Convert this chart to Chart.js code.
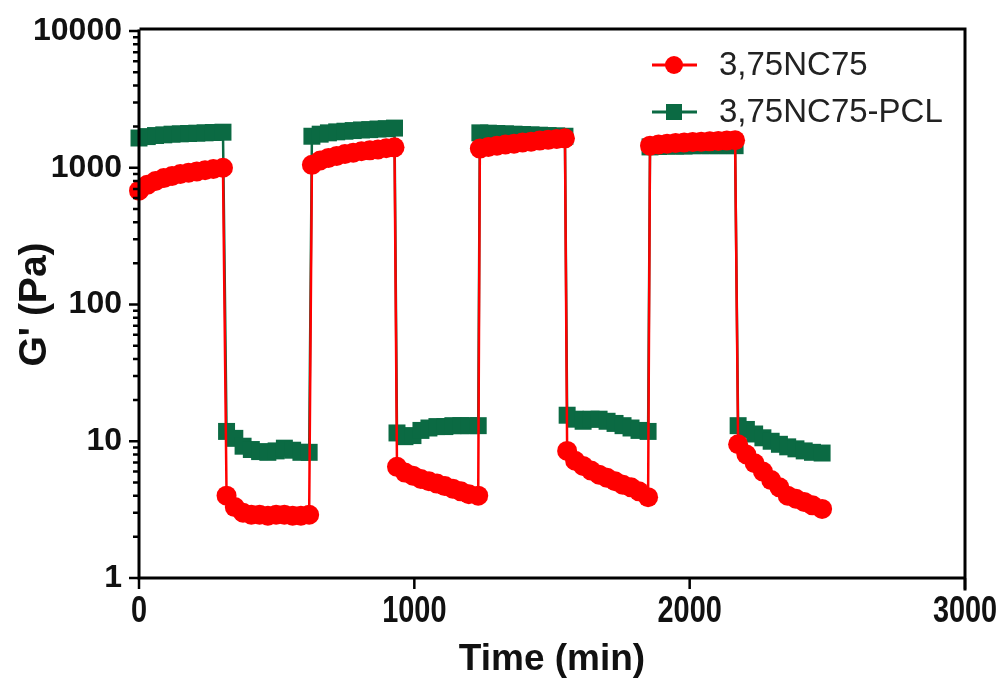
<!DOCTYPE html>
<html>
<head>
<meta charset="utf-8">
<script src="https://cdn.jsdelivr.net/npm/chart.js@4.4.0/dist/chart.umd.min.js"></script>
<style>
  html, body { margin: 0; padding: 0; background: #fff; }
</style>
</head>
<body>
<canvas id="rheoChart" width="1004" height="684"></canvas>
<script>
// tiempos (min) - 8 tramos alternos alto / bajo
const times = [
  0, 30, 60, 90, 120, 150, 180, 210, 240, 270, 305,
  318, 348, 378, 408, 438, 468, 498, 528, 558, 588, 618,
  628, 658, 688, 718, 748, 778, 808, 838, 868, 898, 928,
  937, 966, 995, 1024, 1053, 1082, 1111, 1140, 1169, 1198, 1232,
  1238, 1269, 1300, 1331, 1362, 1393, 1424, 1455, 1486, 1517, 1547,
  1555, 1584, 1613, 1642, 1671, 1700, 1729, 1758, 1787, 1816, 1849,
  1856, 1887, 1918, 1949, 1980, 2011, 2042, 2073, 2104, 2135, 2165,
  2176, 2206, 2236, 2266, 2296, 2326, 2356, 2386, 2416, 2446, 2481
];

// G' (Pa) 3,75NC75
const nc75 = [
  680, 750, 800, 840, 870, 900, 920, 940, 960, 980, 1000,
  4.0, 3.3, 3.0, 2.9, 2.9, 2.85, 2.9, 2.9, 2.85, 2.85, 2.9,
  1050, 1130, 1180, 1220, 1260, 1290, 1320, 1340, 1360, 1390, 1410,
  6.5, 5.9, 5.6, 5.3, 5.1, 4.9, 4.7, 4.5, 4.3, 4.1, 4.0,
  1380, 1420, 1450, 1480, 1500, 1530, 1550, 1580, 1600, 1620, 1640,
  8.5, 7.2, 6.6, 6.1, 5.7, 5.4, 5.1, 4.8, 4.6, 4.3, 3.9,
  1450, 1480, 1500, 1520, 1530, 1540, 1550, 1560, 1570, 1580, 1590,
  9.5, 8.0, 6.9, 6.0, 5.2, 4.6, 4.0, 3.8, 3.6, 3.4, 3.2
];

// G' (Pa) 3,75NC75-PCL
const nc75pcl = [
  1650, 1690, 1720, 1740, 1760, 1770, 1780, 1790, 1800, 1810, 1820,
  11.8, 10.5, 9.2, 8.7, 8.4, 8.3, 8.5, 8.9, 8.6, 8.3, 8.3,
  1700, 1760, 1800, 1830, 1850, 1870, 1890, 1900, 1920, 1930, 1950,
  11.5, 10.8, 11.0, 12.0, 12.5, 12.8, 12.8, 13.0, 13.0, 13.0, 13.0,
  1800, 1790, 1780, 1770, 1760, 1750, 1740, 1730, 1720, 1710, 1700,
  15.5, 14.5, 14.0, 14.5, 14.5, 14.0, 13.5, 13.0, 12.5, 12.0, 11.8,
  1420, 1430, 1440, 1440, 1440, 1450, 1450, 1450, 1450, 1450, 1450,
  13.0, 12.2, 11.3, 10.6, 10.0, 9.5, 9.1, 8.8, 8.5, 8.3, 8.2
];

const seriesNames = ['3,75NC75', '3,75NC75-PCL'];
const seriesColors = ['#ff0000', '#0b6a43'];
const yTicks = [1, 10, 100, 1000, 10000];
const xTicks = [0, 1000, 2000, 3000];

function toPoints(vals) {
  return times.map((t, i) => ({ x: t, y: vals[i] }));
}

// Ejes estilo Prism: marcas mayores y menores, dibujadas con las escalas
const axesPlugin = {
  id: 'axesPlugin',
  afterDatasetsDraw(chart) {
    const { ctx, chartArea: a, scales } = chart;
    const x = scales.x, y = scales.y;
    ctx.save();
    ctx.strokeStyle = '#000';
    ctx.lineWidth = 3;
    ctx.lineCap = 'square';

    ctx.beginPath();
    ctx.moveTo(a.left, a.top);
    ctx.lineTo(a.left, a.bottom);
    ctx.lineTo(a.right, a.bottom);
    ctx.moveTo(a.left + 2, a.top - 2);
    ctx.lineTo(a.right, a.top - 2);
    ctx.lineTo(a.right, a.bottom + 11);
    ctx.stroke();

    // marcas del eje y
    ctx.lineWidth = 2.5;
    ctx.lineCap = 'butt';
    ctx.beginPath();
    yTicks.forEach(v => {
      const p = y.getPixelForValue(v);
      ctx.moveTo(a.left - 10, p);
      ctx.lineTo(a.left, p);
    });
    for (let d = 0; d < yTicks.length - 1; d++) {
      for (let m = 2; m < 10; m++) {
        const p = y.getPixelForValue(yTicks[d] * m);
        ctx.moveTo(a.left - 6, p);
        ctx.lineTo(a.left, p);
      }
    }
    // marcas del eje x
    xTicks.forEach(v => {
      const p = x.getPixelForValue(v);
      ctx.moveTo(p, a.bottom);
      ctx.lineTo(p, a.bottom + 11);
    });
    ctx.stroke();

    // etiquetas del eje x (negrita estrecha)
    ctx.fillStyle = '#111';
    ctx.font = 'bold 37px "Liberation Sans", Arial, sans-serif';
    ctx.textAlign = 'center';
    ctx.textBaseline = 'middle';
    xTicks.forEach(v => {
      const p = x.getPixelForValue(v);
      ctx.save();
      ctx.translate(p, a.bottom + 34);
      ctx.scale(0.78, 1);
      ctx.fillText(String(v), 0, 0);
      ctx.restore();
    });
    ctx.restore();
  }
};

// Leyenda con linea + marcador
const legendPlugin = {
  id: 'legendPlugin',
  afterDraw(chart) {
    const { ctx } = chart;
    const rows = [65, 112];
    ctx.save();
    seriesNames.forEach((name, i) => {
      const yy = rows[i];
      ctx.strokeStyle = seriesColors[i];
      ctx.fillStyle = seriesColors[i];
      ctx.lineWidth = 3;
      ctx.beginPath();
      ctx.moveTo(652, yy);
      ctx.lineTo(697, yy);
      ctx.stroke();
      ctx.beginPath();
      if (i === 0) {
        ctx.arc(674, yy, 9, 0, Math.PI * 2);
      } else {
        ctx.rect(666, yy - 8, 16, 16);
      }
      ctx.fill();
      ctx.fillStyle = '#222';
      ctx.font = '33px "Liberation Sans", Arial, sans-serif';
      ctx.textBaseline = 'middle';
      ctx.fillText(name, 719, yy + 1);
    });
    ctx.restore();
  }
};

const ctx = document.getElementById('rheoChart').getContext('2d');
const rheoChart = new Chart(ctx, {
  type: 'line',
  data: {
    datasets: [
      {
        label: seriesNames[0],
        data: toPoints(nc75),
        borderColor: seriesColors[0],
        backgroundColor: seriesColors[0],
        pointBackgroundColor: seriesColors[0],
        pointBorderColor: seriesColors[0],
        borderWidth: 2.5,
        pointRadius: 10,
        pointBorderWidth: 0,
        pointStyle: 'circle',
        tension: 0,
        clip: false
      },
      {
        label: seriesNames[1],
        data: toPoints(nc75pcl),
        borderColor: seriesColors[1],
        backgroundColor: seriesColors[1],
        pointBackgroundColor: seriesColors[1],
        pointBorderColor: seriesColors[1],
        borderWidth: 2.5,
        pointRadius: 12,
        pointBorderWidth: 0,
        pointStyle: 'rect',
        tension: 0,
        clip: false
      }
    ]
  },
  options: {
    responsive: false,
    animation: false,
    events: [],
    layout: { padding: { top: 31, right: 39, left: 0, bottom: 0 } },
    plugins: {
      legend: { display: false },
      tooltip: { enabled: false }
    },
    scales: {
      x: {
        type: 'linear',
        min: 0,
        max: 3000,
        afterFit: s => { s.height = 106; s.paddingLeft = 0; s.paddingRight = 0; },
        afterBuildTicks: s => { s.ticks = xTicks.map(v => ({ value: v })); },
        grid: { display: false, drawTicks: false },
        border: { display: false },
        ticks: { display: false },
        title: {
          display: true,
          text: 'Time (min)',
          color: '#111',
          padding: { top: 0, bottom: 2 },
          font: { family: '"Liberation Sans", Arial, sans-serif', size: 37, weight: 'bold' }
        }
      },
      y: {
        type: 'logarithmic',
        min: 1,
        max: 10000,
        afterFit: s => { s.width = 139; s.paddingTop = 0; s.paddingBottom = 0; },
        afterBuildTicks: s => { s.ticks = yTicks.map(v => ({ value: v })); },
        grid: { display: false, drawTicks: false },
        border: { display: false },
        ticks: {
          padding: 17,
          color: '#111',
          callback: v => String(v),
          font: { family: '"Liberation Sans", Arial, sans-serif', size: 32, weight: 'bold' }
        },
        title: {
          display: true,
          text: "G' (Pa)",
          color: '#111',
          padding: { top: 12, bottom: 0 },
          font: { family: '"Liberation Sans", Arial, sans-serif', size: 39, weight: 'bold' }
        }
      }
    }
  },
  plugins: [axesPlugin, legendPlugin]
});
</script>
</body>
</html>
